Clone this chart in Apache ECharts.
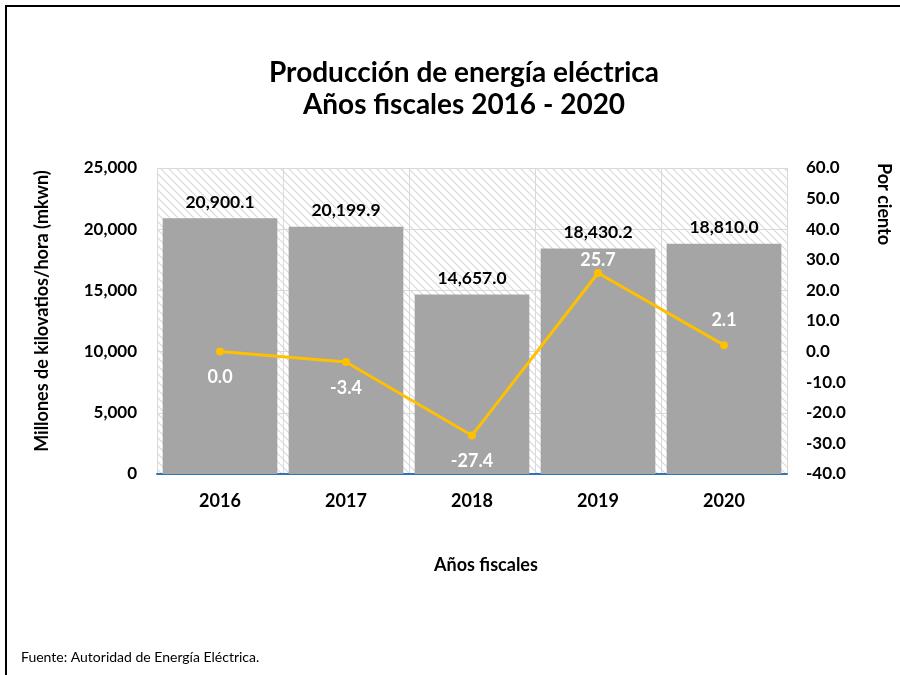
<!DOCTYPE html>
<html><head><meta charset="utf-8">
<script src="https://cdn.jsdelivr.net/npm/echarts@6/dist/echarts.min.js"></script>
<style>html,body{margin:0;padding:0;background:#fff}#c{width:900px;height:675px}</style>
</head><body><div id="c"></div>
<script>
var categories = ['2016','2017','2018','2019','2020'];
var produccion = [20900.1, 20199.9, 14657.0, 18430.2, 18810.0];
var porCiento = [0.0, -3.4, -27.4, 25.7, 2.1];
var leftTicks = [0, 5000, 10000, 15000, 20000, 25000];
var rightTicks = [-40, -30, -20, -10, 0, 10, 20, 30, 40, 50, 60];
var linePos = ['bottom','bottom','bottom','top','top'];
var lineDist = [13, 13, 13, 0, 12];

var F = 'Lato, "Open Sans", sans-serif';
// hatch pattern
var pc = document.createElement('canvas');
pc.width = 8; pc.height = 8;
var g = pc.getContext('2d');
g.fillStyle = '#ffffff'; g.fillRect(0,0,8,8);
g.strokeStyle = '#d9d9d9'; g.lineWidth = 1.2;
g.beginPath();
g.moveTo(-1,-1); g.lineTo(9,9);
g.moveTo(-1,7); g.lineTo(1,9);
g.moveTo(7,-1); g.lineTo(9,1);
g.stroke();

var chart = echarts.init(document.getElementById('c'), null, {renderer:'canvas'});
chart.setOption({
  animation: false,
  backgroundColor: '#fff',
  textStyle: {fontFamily: F},
  title: {
    text: 'Producción de energía eléctrica\nAños fiscales 2016 - 2020',
    left: 459, textAlign: 'center', top: 52,
    textStyle: {fontFamily: F, fontSize: 28, fontWeight: 'bold', color: '#000', lineHeight: 32}
  },
  grid: {left: 157, right: 113, top: 168, bottom: 201, show: true,
    backgroundColor: {image: pc, repeat: 'repeat'}, borderWidth: 0},
  xAxis: {
    type: 'category', data: categories,
    axisLine: {show: true, lineStyle: {color: '#2E75B6', width: 2}},
    axisTick: {show: false},
    splitLine: {show: true, lineStyle: {color: '#d9d9d9', width: 1}},
    axisLabel: {color: '#000', fontFamily: F, fontSize: 18, fontWeight: 'bold', margin: 18}
  },
  yAxis: [{
    type: 'value', min: 0, max: 25000, interval: 5000,
    axisLine: {show: false}, axisTick: {show: false},
    splitLine: {show: true, lineStyle: {color: '#d9d9d9', width: 1}},
    axisLabel: {color: '#000', fontFamily: F, fontSize: 17, fontWeight: 'bold', margin: 20,
      formatter: function(v){ return v.toLocaleString('en-US'); }}
  }, {
    type: 'value', min: -40, max: 60, interval: 10,
    axisLine: {show: false}, axisTick: {show: false}, splitLine: {show: false},
    axisLabel: {color: '#000', fontFamily: F, fontSize: 17, fontWeight: 'bold', margin: 19,
      formatter: function(v){ return v.toFixed(1); }}
  }],
  series: [{
    type: 'bar', data: produccion, yAxisIndex: 0,
    barCategoryGap: '9%',
    itemStyle: {color: '#A5A5A5'},
    label: {show: true, position: 'top', distance: 7, color: '#000', fontFamily: F,
      fontSize: 17.5, fontWeight: 'bold',
      formatter: function(p){ return p.value.toLocaleString('en-US',{minimumFractionDigits:1, maximumFractionDigits:1}); }}
  }, {
    type: 'line', yAxisIndex: 1,
    data: porCiento.map(function(v,i){
      return {value: v, label: {position: linePos[i], distance: lineDist[i]}};
    }),
    symbol: 'circle', symbolSize: 8,
    lineStyle: {color: '#FFC000', width: 3},
    itemStyle: {color: '#FFC000'},
    label: {show: true, color: '#fff', fontFamily: F, fontSize: 18, fontWeight: 'bold',
      formatter: function(p){ return p.value.toFixed(1); }}
  }],
  graphic: [
    {type: 'line', shape: {x1: 5, y1: 6, x2: 900, y2: 6}, style: {stroke: '#000', lineWidth: 2}},
    {type: 'line', shape: {x1: 6, y1: 5, x2: 6, y2: 675}, style: {stroke: '#000', lineWidth: 2}},
    {type: 'text', x: 42, y: 311, rotation: Math.PI/2,
      style: {text: 'Millones de kilovatios/hora (mkwn)', font: 'bold 18px ' + F, fill: '#000',
        textAlign: 'center', textVerticalAlign: 'middle'}},
    {type: 'text', x: 884, y: 204, rotation: -Math.PI/2,
      style: {text: 'Por ciento', font: 'bold 18px ' + F, fill: '#000',
        textAlign: 'center', textVerticalAlign: 'middle'}},
    {type: 'text', x: 486, y: 565,
      style: {text: 'Años fiscales', font: 'bold 18px ' + F, fill: '#000',
        textAlign: 'center', textVerticalAlign: 'middle'}},
    {type: 'text', x: 21, y: 657,
      style: {text: 'Fuente: Autoridad de Energía Eléctrica.', font: '14px ' + F, fill: '#000',
        textAlign: 'left', textVerticalAlign: 'middle'}}
  ]
});
</script></body></html>
